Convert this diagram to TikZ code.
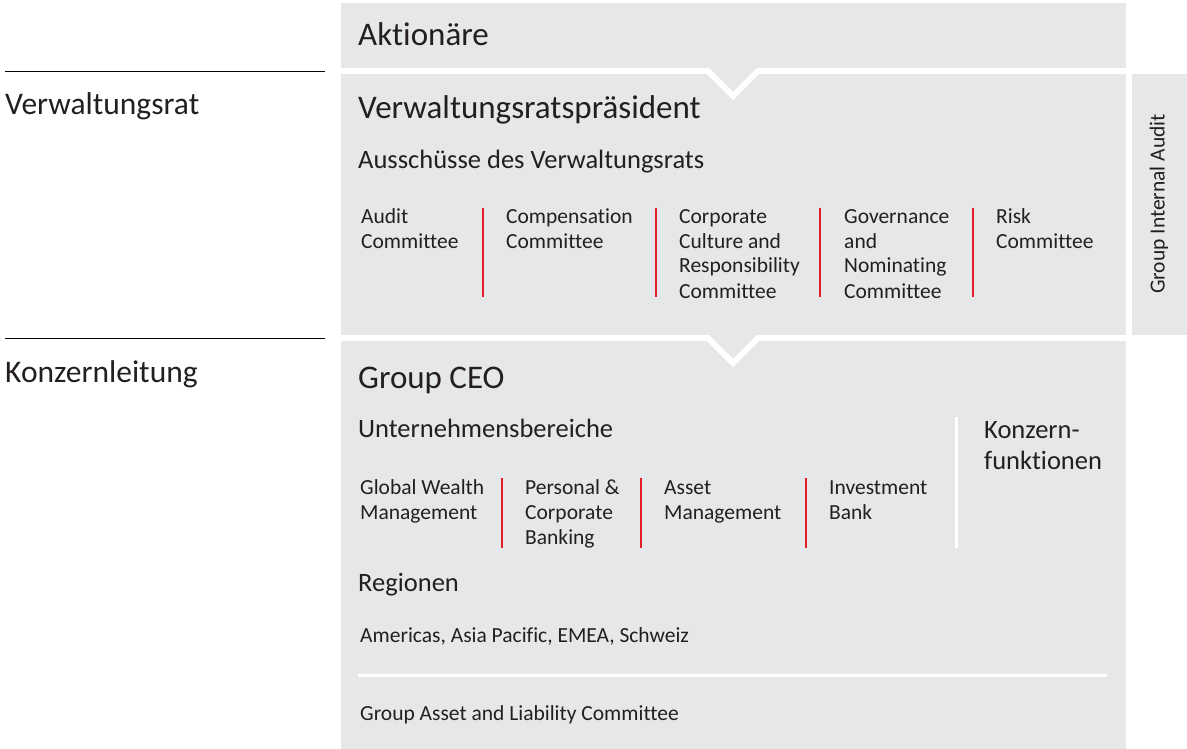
\documentclass[tikz,border=0pt]{standalone}
\usepackage{fontspec}
\setmainfont{Carlito}[Ligatures=NoCommon]
\usepackage{tikz}
\usetikzlibrary{positioning}
\definecolor{panelgray}{RGB}{230,231,232}
\definecolor{ubsred}{RGB}{228,30,38}
\definecolor{txtdark}{RGB}{35,31,32}
\tikzset{
  bigtxt/.style={anchor=base west, inner sep=0pt, text=txtdark, font=\fontsize{33}{36}\selectfont},
  sidetxt/.style={bigtxt, font=\fontsize{31.5}{36}\selectfont},
  midtxt/.style={anchor=base west, inner sep=0pt, text=txtdark, align=left, font=\fontsize{26.5}{31}\selectfont},
  smltxt/.style={anchor=base west, inner sep=0pt, text=txtdark, align=left, font=\fontsize{21.5}{25}\selectfont},
  notchcut/.style={white, line width=6pt},
  redbar/.style={ubsred, line width=1.5pt},
  whitebar/.style={white, line width=3pt},
  hline/.style={black, line width=0.8pt},
}

\begin{document}
\begin{tikzpicture}[x=1pt, y=-1pt]
  \useasboundingbox (0,0) rectangle (1187,749);
  \fill[panelgray] (341,3) rectangle (1126,749);
  \fill[panelgray] (1132,74) rectangle (1187,335);
  \draw[notchcut] (336,71) -- (708,71) -- (733,96) -- (758,71) -- (1130,71);
  \draw[notchcut] (336,338) -- (708,338) -- (733,363) -- (758,338) -- (1130,338);
  \draw[hline] (5,71) -- (325,71);
  \draw[hline] (5,338) -- (325,338);
  \node[sidetxt] (vrat) at (5,115) {Verwaltungsrat};
  \node[sidetxt] (kl) at (5,382) {Konzernleitung};
  \node[smltxt, anchor=center, rotate=90] (gia) at (1159,204) {Group Internal Audit};

  % multi-line nodes sit on the baseline of their last line
  \node[bigtxt] (akt) at (358,46) {Aktionäre};
  \node[bigtxt] (vrp) at (358,119) {Verwaltungsratspräsident};
  \node[midtxt] (aus) at (358,169) {Ausschüsse des Verwaltungsrats};
  \node[smltxt] (audit) at (361,248) {Audit\\Committee};
  \node[smltxt] (comp) at (506,248) {Compensation\\Committee};
  \node[smltxt] (ccr) at (679,298) {Corporate\\Culture and\\Responsibility\\Committee};
  \node[smltxt] (gnc) at (844,298) {Governance\\and\\Nominating\\Committee};
  \node[smltxt] (risk) at (996,248) {Risk\\Committee};
  \foreach \x in {483,656,820,973}{\draw[redbar] (\x,208) -- (\x,297);}

  \node[bigtxt] (ceo) at (358,388) {Group CEO};
  \node[midtxt] (ub) at (358,437) {Unternehmensbereiche};
  \node[midtxt] (kf) at (984,469) {Konzern-\\funktionen};
  \draw[whitebar] (956,417) -- (956,548);
  \node[smltxt] (gwm) at (360,519) {Global Wealth\\Management};
  \node[smltxt] (pcb) at (525,544) {Personal \&\\Corporate\\Banking};
  \node[smltxt] (am) at (664,519) {Asset\\Management};
  \node[smltxt] (ib) at (829,519) {Investment\\Bank};
  \foreach \x in {502,641,806}{\draw[redbar] (\x,478) -- (\x,548);}
  \node[midtxt] (reg) at (358,591) {Regionen};
  \node[smltxt] (regl) at (360,642) {Americas, Asia Pacific, EMEA, Schweiz};
  \draw[whitebar] (358,675) -- (1107,675);
  \node[smltxt] (alco) at (360,720) {Group Asset and Liability Committee};
\end{tikzpicture}
\end{document}
